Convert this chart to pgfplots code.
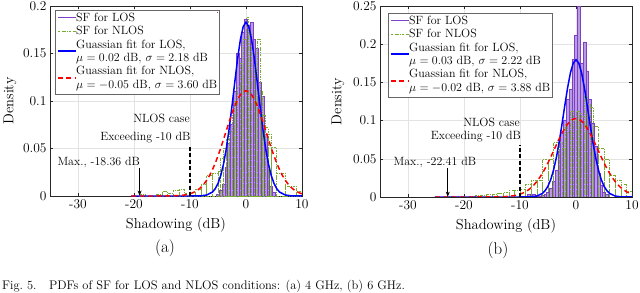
\documentclass[border=0pt]{standalone}
\usepackage{pgfplots}
\pgfplotsset{compat=1.18}
\usetikzlibrary{arrows.meta}
\definecolor{losedge}{RGB}{126,64,196}
\definecolor{losfill}{RGB}{185,155,228}
\definecolor{nlosgreen}{RGB}{119,172,48}
\definecolor{axgray}{RGB}{38,38,38}
\definecolor{fitblue}{RGB}{0,0,255}
\definecolor{fitred}{RGB}{255,0,0}

\pgfplotsset{
 myaxis/.style={
  scale only axis, width=252bp,
  xmin=-35, xmax=10, ymin=0,
  xtick={-30,-20,-10,0,10}, xticklabels={-30,-20,-10,0,10},
  tick align=inside, major tick length=3bp,
  grid=major, major grid style={draw=gray!22, line width=0.4pt},
  axis line style={draw=axgray, line width=0.5pt},
  every tick/.style={draw=axgray, line width=0.5pt},
  tick label style={font=\fontsize{13.5}{15}\selectfont},
  label style={font=\fontsize{14.5}{17}\selectfont},
  xlabel={Shadowing (dB)},
  ylabel={Density},
  xlabel style={at={(axis description cs:0.5,-0.153)}, anchor=center},
 },
 loshist/.style={ybar interval, draw=losedge, fill=losfill, line width=0.6pt, forget plot},
 nloshist/.style={ybar interval, draw=nlosgreen, fill=none, dash pattern=on 2.5pt off 1.2pt on 0.6pt off 1.2pt, line width=0.6pt, forget plot},
 losfit/.style={draw=fitblue, line width=1.5pt, forget plot},
 nlosfit/.style={draw=fitred, line width=1.5pt, dash pattern=on 5pt off 3.5pt, forget plot},
}
\tikzset{
 legbox/.style={draw=gray!80!black, line width=0.5pt, fill=white, anchor=north west, inner sep=1.5bp, font=\fontsize{12}{13.5}\selectfont},
 legtext/.style={draw=none, fill=none, anchor=north west, inner sep=1.5bp, font=\fontsize{12}{13.5}\selectfont},
 dummy/.style={line width=0.05pt},
}
\newcommand{\legA}{\begin{tabular}{@{}p{19.5bp}@{}l@{}}
 & SF for LOS\\
 & SF for NLOS\\
 & Guassian fit for LOS,\\
 & $\mu=0.02$ dB, $\sigma=2.18$ dB\\
 & Guassian fit for NLOS,\\
 & $\mu=-0.05$ dB, $\sigma=3.60$ dB
\end{tabular}}
\newcommand{\legB}{\begin{tabular}{@{}p{19.5bp}@{}l@{}}
 & SF for LOS\\
 & SF for NLOS\\
 & Guassian fit for LOS,\\
 & $\mu=0.03$ dB, $\sigma=2.22$ dB\\
 & Guassian fit for NLOS,\\
 & $\mu=-0.02$ dB, $\sigma=3.88$ dB
\end{tabular}}

\begin{document}
\begin{tikzpicture}
\useasboundingbox (0,0) rectangle (640bp,293bp);

% ---------------- (a) ----------------
\begin{axis}[myaxis, at={(50bp,97bp)}, anchor=south west, height=190bp,
  ymax=0.2, ytick={0,0.05,0.1,0.15,0.2}, yticklabels={0,0.05,0.1,0.15,0.2},
  ylabel style={at={(axis description cs:-0.159,0.5)}, anchor=center}]
\addplot[loshist] table {
x y
-5.25 0.002
-4.75 0.006
-4.25 0.012
-3.75 0.030
-3.25 0.055
-2.75 0.075
-2.25 0.110
-1.75 0.150
-1.25 0.145
-0.75 0.172
-0.25 0.186
0.25 0.180
0.75 0.183
1.25 0.165
1.75 0.155
2.25 0.120
2.75 0.105
3.25 0.065
3.75 0.030
4.25 0.010
4.75 0.004
5.25 0
};
\addplot[nloshist] table {
x y
-19 0.002
-18 0
-16 0.002
-15 0.005
-14 0.003
-13 0.006
-12 0.007
-11 0.003
-10 0.004
-9 0.007
-8 0.012
-7 0.022
-6 0.024
-5 0.026
-4.5 0.040
-4 0.050
-3.5 0.060
-3 0.068
-2.5 0.085
-2 0.100
-1.5 0.115
-1 0.140
-0.5 0.165
0 0.188
0.5 0.170
1 0.150
1.5 0.125
2 0.165
2.5 0.110
3 0.085
3.5 0.072
4 0.065
4.5 0.051
5.5 0.024
7 0.010
9 0.005
10 0
};
\addplot[losfit] coordinates {
(-20.5,0) (-10,0) (-8,0.0002) (-7,0.0011) (-6,0.0041) (-5.5,0.0076) (-5,0.0132)
(-4.5,0.0217) (-4,0.0340) (-3.5,0.0504) (-3,0.0710) (-2.5,0.0948) (-2,0.1201)
(-1.5,0.1444) (-1,0.1647) (-0.5,0.1783) (0,0.1830) (0.5,0.1783) (1,0.1647)
(1.5,0.1444) (2,0.1201) (2.5,0.0948) (3,0.0710) (3.5,0.0504) (4,0.0340)
(4.5,0.0217) (5,0.0132) (5.5,0.0076) (6,0.0041) (7,0.0011) (8,0.0002) (10,0)
};
\addplot[nlosfit] coordinates {
(-20.5,0) (-16,0) (-14,0.0001) (-12,0.0004) (-11,0.0010) (-10,0.0023) (-9.5,0.0034)
(-9,0.0049) (-8.5,0.0068) (-8,0.0094) (-7.5,0.0127) (-7,0.0167) (-6.5,0.0217)
(-6,0.0276) (-5.5,0.0345) (-5,0.0422) (-4.5,0.0507) (-4,0.0598) (-3.5,0.0691)
(-3,0.0783) (-2.5,0.0871) (-2,0.0950) (-1.5,0.1016) (-1,0.1066) (-0.5,0.1097)
(0,0.1108) (0.5,0.1097) (1,0.1066) (1.5,0.1016) (2,0.0950) (2.5,0.0871)
(3,0.0783) (3.5,0.0691) (4,0.0598) (4.5,0.0507) (5,0.0422) (5.5,0.0345)
(6,0.0276) (6.5,0.0217) (7,0.0167) (7.5,0.0127) (8,0.0094) (8.5,0.0068)
(9,0.0049) (9.5,0.0034) (10,0.0023)
};
\addplot[draw=black, line width=1.3pt, dash pattern=on 4pt off 2.5pt, forget plot] coordinates {(-10,0) (-10,0.0526)};
\addplot[draw=black, line width=0.6pt, -{Stealth[length=5pt,width=4pt]}, forget plot] coordinates {(-19.0,0.0295) (-19.0,0.0005)};
\node[anchor=east, font=\fontsize{12}{14}\selectfont, inner sep=0pt] at (axis cs:-10,0.082) {NLOS case};
\node[anchor=east, font=\fontsize{12}{14}\selectfont, inner sep=0pt] at (axis cs:-9.9,0.062) {Exceeding -10 dB};
\node[font=\fontsize{12}{14}\selectfont, inner sep=0pt] at (axis cs:-26.3,0.035) {Max., -18.36 dB};
\end{axis}

% ---------------- (b) ----------------
\begin{axis}[myaxis, at={(380bp,96bp)}, anchor=south west, height=191bp,
  ymax=0.25, ytick={0,0.05,0.1,0.15,0.2,0.25}, yticklabels={0,0.05,0.1,0.15,0.2,0.25},
  ylabel style={at={(axis description cs:-0.167,0.5)}, anchor=center}]
\addplot[loshist] table {
x y
-8.75 0.003
-8.25 0.002
-7.75 0.003
-7.25 0.002
-6.75 0.001
-6.25 0.002
-5.75 0.003
-5.25 0.006
-4.75 0.012
-4.25 0.020
-3.75 0.035
-3.25 0.060
-2.75 0.085
-2.25 0.101
-1.75 0.128
-1.25 0.141
-0.75 0.180
-0.25 0.211
0.25 0.250
0.75 0.175
1.25 0.203
1.75 0.165
2.25 0.128
2.75 0.097
3.25 0.066
3.75 0.031
4.25 0.015
4.75 0.006
5.25 0.003
5.75 0
};
\addplot[nloshist] table {
x y
-23 0.001
-22 0
-21 0.001
-20 0
-19 0.001
-18 0.002
-17 0.002
-16 0.003
-15 0.004
-14 0.005
-13 0.006
-12 0.009
-11 0.009
-10 0.010
-9 0.016
-8 0.022
-7 0.022
-6 0.049
-5 0.049
-4 0.071
-3 0.071
-2.5 0.064
-2 0.095
-1.5 0.085
-1 0.112
-0.5 0.100
0 0.112
0.5 0.110
1 0.105
1.5 0.132
2 0.121
2.5 0.118
3 0.092
4 0.064
5 0.049
6 0.029
7 0.022
8 0.016
9 0.007
10 0
};
\addplot[losfit] coordinates {
(-25.2,0) (-10,0) (-8,0.0003) (-7,0.0012) (-6,0.0047) (-5.5,0.0084) (-5,0.0142)
(-4.5,0.0230) (-4,0.0355) (-3.5,0.0519) (-3,0.0721) (-2.5,0.0953) (-2,0.1198)
(-1.5,0.1430) (-1,0.1624) (-0.5,0.1752) (0,0.1797) (0.5,0.1752) (1,0.1624)
(1.5,0.1430) (2,0.1198) (2.5,0.0953) (3,0.0721) (3.5,0.0519) (4,0.0355)
(4.5,0.0230) (5,0.0142) (5.5,0.0084) (6,0.0047) (7,0.0012) (8,0.0003) (10,0)
};
\addplot[nlosfit] coordinates {
(-25.2,0) (-18,0) (-16,0.0001) (-14,0.0002) (-13,0.0004) (-12,0.0009) (-11,0.0018)
(-10,0.0037) (-9.5,0.0051) (-9,0.0070) (-8.5,0.0093) (-8,0.0123) (-7.5,0.0159)
(-7,0.0202) (-6.5,0.0253) (-6,0.0311) (-5.5,0.0376) (-5,0.0448) (-4.5,0.0525)
(-4,0.0604) (-3.5,0.0684) (-3,0.0762) (-2.5,0.0835) (-2,0.0900) (-1.5,0.0954)
(-1,0.0994) (-0.5,0.1019) (0,0.1028) (0.5,0.1019) (1,0.0994) (1.5,0.0954)
(2,0.0900) (2.5,0.0835) (3,0.0762) (3.5,0.0684) (4,0.0604) (4.5,0.0525)
(5,0.0448) (5.5,0.0376) (6,0.0311) (6.5,0.0253) (7,0.0202) (7.5,0.0159)
(8,0.0123) (8.5,0.0093) (9,0.0070) (9.5,0.0051) (10,0.0037)
};
\addplot[draw=black, line width=1.3pt, dash pattern=on 4pt off 2.5pt, forget plot] coordinates {(-10,0) (-10,0.068)};
\addplot[draw=black, line width=0.6pt, -{Stealth[length=5pt,width=4pt]}, forget plot] coordinates {(-22.9,0.038) (-22.9,0.0005)};
\node[anchor=east, font=\fontsize{12}{14}\selectfont, inner sep=0pt] at (axis cs:-10,0.097) {NLOS case};
\node[anchor=east, font=\fontsize{12}{14}\selectfont, inner sep=0pt] at (axis cs:-9.8,0.0785) {Exceeding -10 dB};
\node[font=\fontsize{12}{14}\selectfont, inner sep=0pt] at (axis cs:-25.2,0.0445) {Max., -22.41 dB};
\end{axis}

% ---------------- legends: boxes, then sample lines, then texts ----------------
\node[legbox] (boxA) at (55bp,283bp) {\phantom{\legA}};
\node[legbox] (boxB) at (388bp,280bp) {\phantom{\legB}};

% invisible tiny strokes inside the boxes (blank corner)
\foreach \c in {white,losedge,nlosgreen,fitblue,fitred,white,losedge,nlosgreen,fitblue,fitred} {
  \draw[dummy, draw=\c] ([shift={(-2bp,-2bp)}]boxA.north east) -- ++(0.02bp,0);
}

\draw[draw=losedge, line width=1pt] ([shift={(3bp,-7.45bp)}]boxA.north west) -- ++(18bp,0);
\draw[draw=nlosgreen, line width=0.6pt, dash pattern=on 2.5pt off 1.2pt on 0.6pt off 1.2pt] ([shift={(3bp,-20.95bp)}]boxA.north west) -- ++(18bp,0);
\draw[draw=fitblue, line width=1.5pt] ([shift={(3bp,-41.2bp)}]boxA.north west) -- ++(18bp,0);
\draw[draw=fitred, line width=1.5pt, dash pattern=on 5pt off 3.5pt] ([shift={(3bp,-68.2bp)}]boxA.north west) -- ++(18bp,0);

\draw[draw=losedge, line width=1pt] ([shift={(3bp,-7.45bp)}]boxB.north west) -- ++(18bp,0);
\draw[draw=nlosgreen, line width=0.6pt, dash pattern=on 2.5pt off 1.2pt on 0.6pt off 1.2pt] ([shift={(3bp,-20.95bp)}]boxB.north west) -- ++(18bp,0);
\draw[draw=fitblue, line width=1.5pt] ([shift={(3bp,-41.2bp)}]boxB.north west) -- ++(18bp,0);
\draw[draw=fitred, line width=1.5pt, dash pattern=on 5pt off 3.5pt] ([shift={(3bp,-68.2bp)}]boxB.north west) -- ++(18bp,0);

\node[legtext] at (boxA.north west) {\legA};
\node[legtext] at (boxB.north west) {\legB};

\node[font=\fontsize{17}{20}\selectfont] at (165bp,45bp) {(a)};
\node[font=\fontsize{17}{20}\selectfont] at (498bp,43bp) {(b)};
\node[anchor=base west, font=\fontsize{12.5}{15}\selectfont, inner sep=0pt] at (2bp,3.5bp) {Fig.~5.\quad PDFs of SF for LOS and NLOS conditions: (a) 4~GHz, (b) 6~GHz.};
\end{tikzpicture}
\end{document}
